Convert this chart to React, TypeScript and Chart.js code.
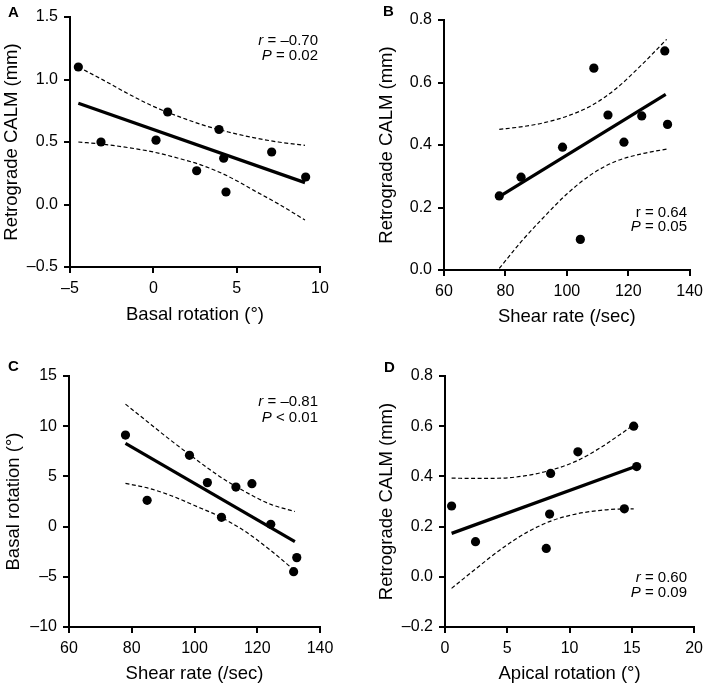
import React, { useEffect, useRef } from 'react';
import { Chart, registerables } from 'chart.js';
Chart.register(...registerables);

const FONT = '"Liberation Sans", Arial, Helvetica, sans-serif';

// ---------- Panel A: Basal rotation vs Retrograde CALM ----------
const aX = [-4.5, -3.14, 0.16, 0.86, 2.6, 3.94, 4.22, 4.36, 7.1, 9.14];
const aY = [1.1, 0.5, 0.515, 0.74, 0.27, 0.6, 0.37, 0.1, 0.42, 0.22];
const aFitX = [-4.5, 9.1];
const aFitY = [0.81, 0.175];
const aUpX = [-4.5, -3, -1.5, 0, 1.5, 3, 4.5, 6, 7.5, 9.1];
const aUpY = [1.1, 0.995, 0.885, 0.785, 0.705, 0.635, 0.58, 0.535, 0.5, 0.473];
const aLowX = [-4.5, -3, -1.5, 0, 1.5, 3, 4.5, 6, 7.5, 9.1];
const aLowY = [0.5, 0.482, 0.455, 0.42, 0.37, 0.31, 0.225, 0.115, 0.005, -0.124];

// ---------- Panel B: Shear rate vs Retrograde CALM ----------
const bX = [78.0, 85.1, 98.6, 104.4, 108.8, 113.4, 118.6, 124.4, 131.9, 132.8];
const bY = [0.237, 0.297, 0.393, 0.098, 0.646, 0.496, 0.409, 0.493, 0.701, 0.466];
const bFitX = [78, 132.2];
const bFitY = [0.235, 0.562];
const bUpX = [78, 85, 92, 100, 108, 116, 124, 132.5];
const bUpY = [0.45, 0.458, 0.47, 0.492, 0.526, 0.58, 0.653, 0.738];
const bLowX = [78, 85, 92, 100, 108, 116, 124, 132.5];
const bLowY = [0.005, 0.089, 0.164, 0.243, 0.306, 0.348, 0.371, 0.387];

// ---------- Panel C: Shear rate vs Basal rotation ----------
const cX = [78.0, 84.9, 98.4, 104.1, 108.6, 113.2, 118.3, 124.3, 131.6, 132.6];
const cY = [9.12, 2.62, 7.1, 4.38, 0.92, 3.94, 4.28, 0.23, -4.49, -3.09];
const cFitX = [78, 132];
const cFitY = [8.3, -1.5];
const cUpX = [78, 85, 92, 100, 108, 116, 124, 132];
const cUpY = [12.2, 10.45, 8.7, 6.8, 5.0, 3.5, 2.25, 1.5];
const cLowX = [78, 85, 92, 100, 108, 116, 124, 132];
const cLowY = [4.3, 3.85, 3.15, 2.1, 1.0, -0.45, -2.3, -4.4];

// ---------- Panel D: Apical rotation vs Retrograde CALM ----------
const dX = [0.53, 2.45, 8.13, 8.4, 8.48, 10.67, 14.4, 15.15, 15.39];
const dY = [0.282, 0.14, 0.113, 0.25, 0.412, 0.498, 0.271, 0.6, 0.439];
const dFitX = [0.53, 15.4];
const dFitY = [0.173, 0.441];
const dUpX = [0.53, 2.5, 4.5, 6.5, 8.5, 10.5, 12.5, 14, 15.15];
const dUpY = [0.393, 0.392, 0.393, 0.403, 0.425, 0.46, 0.515, 0.565, 0.605];
const dLowX = [0.53, 2.5, 4.5, 6.5, 8.5, 10.5, 12.5, 14, 15.15];
const dLowY = [-0.046, 0.033, 0.11, 0.175, 0.222, 0.25, 0.265, 0.27, 0.271];

type Seg = { t: string; i?: boolean };

interface PanelDef {
  id: string;
  box: { left: number; top: number; w: number; h: number };
  area: { l: number; t: number; r: number; b: number };
  x: { min: number; max: number; step: number; dec: number; title: string; titlePad: number };
  y: { min: number; max: number; step: number; dec: number; title: string; titlePad: number };
  pts: [number[], number[]];
  fit: [number[], number[]];
  up: [number[], number[]];
  low: [number[], number[]];
  label: { x: number; y: number };
  ann: { right: number; y1: number; y2: number; l1: Seg[]; l2: Seg[] };
}

const panels: PanelDef[] = [
  {
    id: 'A',
    box: { left: 0, top: 0, w: 354, h: 340 },
    area: { l: 70, t: 17, r: 320, b: 267 },
    x: { min: -5, max: 10, step: 5, dec: 0, title: 'Basal rotation (°)', titlePad: 14 },
    y: { min: -0.5, max: 1.5, step: 0.5, dec: 1, title: 'Retrograde CALM (mm)', titlePad: 1 },
    pts: [aX, aY], fit: [aFitX, aFitY], up: [aUpX, aUpY], low: [aLowX, aLowY],
    label: { x: 8, y: 13 },
    ann: { right: 318, y1: 41, y2: 56, l1: [{ t: 'r', i: true }, { t: ' = –0.70' }], l2: [{ t: 'P', i: true }, { t: ' = 0.02' }] },
  },
  {
    id: 'B',
    box: { left: 354, top: 0, w: 355, h: 340 },
    area: { l: 90, t: 20, r: 342, b: 270 },
    x: { min: 60, max: 140, step: 20, dec: 0, title: 'Shear rate (/sec)', titlePad: 12 },
    y: { min: 0, max: 0.8, step: 0.2, dec: 1, title: 'Retrograde CALM (mm)', titlePad: 22 },
    pts: [bX, bY], fit: [bFitX, bFitY], up: [bUpX, bUpY], low: [bLowX, bLowY],
    label: { x: 29, y: 12 },
    ann: { right: 333, y1: 212.5, y2: 226.5, l1: [{ t: 'r = 0.64' }], l2: [{ t: 'P', i: true }, { t: ' = 0.05' }] },
  },
  {
    id: 'C',
    box: { left: 0, top: 340, w: 354, h: 346 },
    area: { l: 69, t: 36, r: 320, b: 287 },
    x: { min: 60, max: 140, step: 20, dec: 0, title: 'Shear rate (/sec)', titlePad: 1 },
    y: { min: -10, max: 15, step: 5, dec: 0, title: 'Basal rotation (°)', titlePad: 3 },
    pts: [cX, cY], fit: [cFitX, cFitY], up: [cUpX, cUpY], low: [cLowX, cLowY],
    label: { x: 8, y: 27 },
    ann: { right: 318, y1: 61.5, y2: 77.5, l1: [{ t: 'r', i: true }, { t: ' = –0.81' }], l2: [{ t: 'P', i: true }, { t: ' < 0.01' }] },
  },
  {
    id: 'D',
    box: { left: 354, top: 340, w: 355, h: 346 },
    area: { l: 91, t: 36, r: 341, b: 287 },
    x: { min: 0, max: 20, step: 5, dec: 0, title: 'Apical rotation (°)', titlePad: 1 },
    y: { min: -0.2, max: 0.8, step: 0.2, dec: 1, title: 'Retrograde CALM (mm)', titlePad: 22 },
    pts: [dX, dY], fit: [dFitX, dFitY], up: [dUpX, dUpY], low: [dLowX, dLowY],
    label: { x: 30, y: 28 },
    ann: { right: 333, y1: 237.5, y2: 252.5, l1: [{ t: 'r', i: true }, { t: ' = 0.60' }], l2: [{ t: 'P', i: true }, { t: ' = 0.09' }] },
  },
];

const fmt = (v: number, dec: number) => {
  const r = Math.abs(v) < 1e-9 ? 0 : v;
  return r.toFixed(dec).replace('-', '–');
};

const toPts = (xs: number[], ys: number[]) => xs.map((x, i) => ({ x, y: ys[i] }));

function drawSegs(ctx: CanvasRenderingContext2D, segs: Seg[], right: number, y: number, size: number) {
  const fonts = segs.map((s) => `${s.i ? 'italic ' : ''}${size}px ${FONT}`);
  const widths = segs.map((s, k) => {
    ctx.font = fonts[k];
    return ctx.measureText(s.t).width;
  });
  let x = right - widths.reduce((a, b) => a + b, 0);
  ctx.textBaseline = 'middle';
  ctx.textAlign = 'left';
  ctx.fillStyle = '#000';
  segs.forEach((s, k) => {
    ctx.font = fonts[k];
    ctx.fillText(s.t, x, y);
    x += widths[k];
  });
}

function makePlugin(p: PanelDef) {
  return {
    id: 'annot' + p.id,
    afterDraw(chart: any) {
      const ctx: CanvasRenderingContext2D = chart.ctx;
      ctx.save();
      ctx.fillStyle = '#000';
      ctx.font = `bold 15px ${FONT}`;
      ctx.textAlign = 'left';
      ctx.textBaseline = 'middle';
      ctx.fillText(p.id, p.label.x, p.label.y);
      drawSegs(ctx, p.ann.l1, p.ann.right, p.ann.y1, 15);
      drawSegs(ctx, p.ann.l2, p.ann.right, p.ann.y2, 15);
      ctx.restore();
    },
  };
}

function Panel({ p }: { p: PanelDef }) {
  const ref = useRef<HTMLCanvasElement | null>(null);
  useEffect(() => {
    if (!ref.current) return;
    const tickFont = { family: FONT, size: 16 };
    const titleFont = { family: FONT, size: 18.5 };
    const axisCommon = {
      type: 'linear' as const,
      grid: { display: true, drawOnChartArea: false, drawTicks: true, tickLength: 6, color: '#000', lineWidth: 2 },
      border: { display: true, color: '#000', width: 2 },
    };
    const chart = new Chart(ref.current, {
      type: 'scatter',
      data: {
        datasets: [
          {
            data: toPts(p.pts[0], p.pts[1]),
            showLine: false,
            pointRadius: 4.6,
            pointBackgroundColor: '#000',
            pointBorderWidth: 0,
            pointBorderColor: '#000',
          },
          {
            data: toPts(p.fit[0], p.fit[1]),
            showLine: true,
            borderColor: '#000',
            borderWidth: 3.2,
            pointRadius: 0,
          },
          {
            data: toPts(p.up[0], p.up[1]),
            showLine: true,
            borderColor: '#000',
            borderWidth: 1.2,
            borderDash: [4, 2.5],
            pointRadius: 0,
            cubicInterpolationMode: 'monotone',
          },
          {
            data: toPts(p.low[0], p.low[1]),
            showLine: true,
            borderColor: '#000',
            borderWidth: 1.2,
            borderDash: [4, 2.5],
            pointRadius: 0,
            cubicInterpolationMode: 'monotone',
          },
        ] as any,
      },
      options: {
        animation: false,
        responsive: false,
        devicePixelRatio: 1,
        layout: { padding: { top: p.area.t, right: p.box.w - p.area.r, left: 0, bottom: 0 } },
        plugins: { legend: { display: false }, tooltip: { enabled: false }, title: { display: false } },
        scales: {
          x: {
            ...axisCommon,
            position: 'bottom',
            min: p.x.min,
            max: p.x.max,
            ticks: {
              stepSize: p.x.step,
              autoSkip: false,
              maxRotation: 0,
              padding: 6,
              color: '#000',
              font: tickFont,
              callback: (v: any) => fmt(Number(v), p.x.dec),
            },
            title: { display: true, text: p.x.title, color: '#000', font: titleFont, padding: { top: 0, bottom: p.x.titlePad } },
            afterFit: (s: any) => {
              s.height = p.box.h - p.area.b;
            },
          },
          y: {
            ...axisCommon,
            position: 'left',
            min: p.y.min,
            max: p.y.max,
            ticks: {
              stepSize: p.y.step,
              autoSkip: false,
              padding: 6,
              color: '#000',
              font: tickFont,
              callback: (v: any) => fmt(Number(v), p.y.dec),
            },
            title: { display: true, text: p.y.title, color: '#000', font: titleFont, padding: { top: p.y.titlePad, bottom: 0 } },
            afterFit: (s: any) => {
              s.width = p.area.l;
            },
          },
        },
      } as any,
      plugins: [makePlugin(p)],
    });
    return () => chart.destroy();
  }, [p]);
  return (
    <canvas
      ref={ref}
      width={p.box.w}
      height={p.box.h}
      style={{ position: 'absolute', left: p.box.left, top: p.box.top, width: p.box.w, height: p.box.h }}
    />
  );
}

export default function App() {
  return (
    <div style={{ position: 'fixed', left: 0, top: 0, width: 709, height: 686, background: '#fff' }}>
      {panels.map((p) => (
        <Panel key={p.id} p={p} />
      ))}
    </div>
  );
}
